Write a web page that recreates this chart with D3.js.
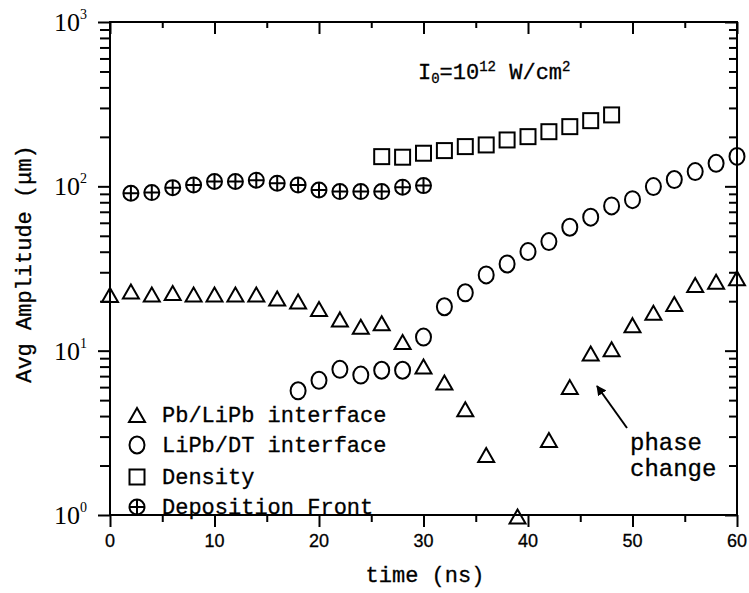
<!DOCTYPE html>
<html>
<head>
<meta charset="utf-8">
<script src="https://cdn.jsdelivr.net/npm/d3@7"></script>
<style>
  body { margin: 0; background: #fff; }
  svg { display: block; }
  .lbl { font-family: "Liberation Mono", monospace; font-size: 22px; fill: #000; stroke: #000; stroke-width: 0.3px; }
  .num { font-family: "Liberation Sans", Arial, sans-serif; font-size: 18px; fill: #000; }
  .mk { fill: none; stroke: #000; stroke-width: 2px; }
</style>
</head>
<body>
<div id="chart"></div>
<script>
// Pb/LiPb interface (triangles)
const pbTime = [0, 2, 4, 6, 8, 10, 12, 14, 16, 18, 20, 22, 24, 26, 28, 30, 32, 34, 36, 39, 42, 44, 46, 48, 50, 52, 54, 56, 58, 60];
const pbAmp = [21.8, 22.9, 22, 22.4, 22, 22, 22, 22, 20.8, 19.9, 17.9, 15.5, 14.0, 14.7, 11.3, 8.0, 6.4, 4.4, 2.32, 0.98, 2.86, 6.0, 9.6, 10.2, 14.3, 17.0, 19.2, 25.1, 26.3, 27.6];

// LiPb/DT interface (circles)
const dtTime = [18, 20, 22, 24, 26, 28, 30, 32, 34, 36, 38, 40, 42, 44, 46, 48, 50, 52, 54, 56, 58, 60];
const dtAmp = [5.7, 6.6, 7.7, 7.1, 7.6, 7.6, 12.1, 18.5, 22.5, 28.9, 33.7, 40.1, 46.1, 56.4, 64.9, 76.0, 83, 99.6, 110, 123, 138, 152];

// Density (squares)
const densTime = [26, 28, 30, 32, 34, 36, 38, 40, 42, 44, 46, 48];
const densAmp = [151.6, 150.4, 159, 165, 174.5, 178.6, 191.5, 200.6, 215, 230.8, 251, 272];

// Deposition Front (crossed circles)
const depTime = [2, 4, 6, 8, 10, 12, 14, 16, 18, 20, 22, 24, 26, 28, 30];
const depAmp = [90.8, 91.6, 98.2, 102, 107, 107, 109, 104.5, 102, 95, 92.9, 92.9, 92.9, 98.8, 101];

const xTicks = [0, 10, 20, 30, 40, 50, 60];
const yDecades = [0, 1, 2, 3];
const legendNames = ["Pb/LiPb interface", "LiPb/DT interface", "Density", "Deposition Front"];

const W = 749, H = 593;
const svg = d3.select("#chart").append("svg").attr("width", W).attr("height", H);

const x = d3.scaleLinear().domain([0, 60]).range([110, 737]);
const y = d3.scaleLog().domain([1, 1000]).range([515, 22]);

const minorX = d3.range(5, 60, 10);
const minorY = [];
yDecades.slice(0, 3).forEach(e => { for (let k = 2; k <= 9; k++) minorY.push(k * Math.pow(10, e)); });
const majorY = yDecades.map(e => Math.pow(10, e));

// bottom/left ticks point out, top/right ticks point in
function axisG(axis, tr) {
    const g = svg.append("g").attr("transform", tr).call(axis);
    g.select(".domain").remove();
    g.selectAll("line").attr("stroke", "#000").attr("stroke-width", 2);
    return g;
}
axisG(d3.axisBottom(x).tickValues(xTicks).tickSize(12).tickFormat(""), "translate(0,515)");
axisG(d3.axisBottom(x).tickValues(minorX).tickSize(7).tickFormat(""), "translate(0,515)");
axisG(d3.axisBottom(x).tickValues(xTicks).tickSize(12).tickFormat(""), "translate(0,22)");
axisG(d3.axisBottom(x).tickValues(minorX).tickSize(6).tickFormat(""), "translate(0,22)");
axisG(d3.axisLeft(y).tickValues(majorY).tickSize(12).tickFormat(""), "translate(110,0)");
axisG(d3.axisLeft(y).tickValues(minorY).tickSize(10).tickFormat(""), "translate(110,0)");
axisG(d3.axisLeft(y).tickValues(majorY).tickSize(12).tickFormat(""), "translate(737,0)");
axisG(d3.axisLeft(y).tickValues(minorY).tickSize(8).tickFormat(""), "translate(737,0)");

// frame
svg.append("rect")
    .attr("x", x(0)).attr("y", y(1000))
    .attr("width", x(60) - x(0)).attr("height", y(1) - y(1000))
    .attr("fill", "none").attr("stroke", "#000").attr("stroke-width", 2);

// x tick labels
svg.selectAll(".xl").data(xTicks).enter().append("text")
    .attr("class", "num")
    .attr("x", d => x(d)).attr("y", 547)
    .attr("text-anchor", "middle")
    .style("stroke", "#000").style("stroke-width", "0.3px")
    .text(d => d);

// y tick labels 10^n
const yl = svg.selectAll(".yl").data(yDecades).enter().append("g");
yl.append("text")
    .attr("x", 80).attr("y", d => y(Math.pow(10, d)) + 9)
    .attr("text-anchor", "end")
    .style("font-family", "Liberation Serif, serif").style("font-size", "26px")
    .text("10");
yl.append("text")
    .attr("x", 80).attr("y", d => y(Math.pow(10, d)) - 3)
    .style("font-family", "Liberation Serif, serif").style("font-size", "14px")
    .text(d => d);

// axis titles
svg.append("text").attr("class", "lbl")
    .attr("x", 425).attr("y", 582).attr("text-anchor", "middle")
    .text("time (ns)");
svg.append("text").attr("class", "lbl")
    .attr("transform", "translate(31,264) rotate(-90)")
    .attr("text-anchor", "middle")
    .text("Avg Amplitude (\u03bcm)");

// intensity label
const it = svg.append("text").attr("class", "lbl").attr("x", 418).attr("y", 79);
it.append("tspan").text("I");
it.append("tspan").attr("dy", 4).style("font-size", "14px").text("0");
it.append("tspan").attr("dy", -4).text("=10");
it.append("tspan").attr("dy", -8).style("font-size", "14px").text("12");
it.append("tspan").attr("dy", 8).text(" W/cm");
it.append("tspan").attr("dy", -8).style("font-size", "14px").text("2");

// markers
const tri = "M0,-7L8,7L-8,7Z";
function drawTri(sel) { sel.append("path").attr("class", "mk").attr("d", tri); }
function drawCirc(sel) { sel.append("ellipse").attr("class", "mk").attr("rx", 7.5).attr("ry", 8.5); }
function drawSq(sel) { sel.append("rect").attr("class", "mk").attr("x", -7.5).attr("y", -7.5).attr("width", 15).attr("height", 15); }
function drawCross(sel) {
    sel.append("circle").attr("class", "mk").attr("r", 7.5);
    sel.append("path").attr("class", "mk").attr("d", "M-7.5,0H7.5M0,-7.5V7.5");
}

function series(times, amps, drawer) {
    const g = svg.append("g").selectAll("g").data(times).enter().append("g")
        .attr("transform", (d, i) => `translate(${x(d)},${y(amps[i])})`);
    drawer(g);
}
series(pbTime, pbAmp, drawTri);
series(dtTime, dtAmp, drawCirc);
series(densTime, densAmp, drawSq);
series(depTime, depAmp, drawCross);

// legend
const drawers = [drawTri, drawCirc, drawSq, drawCross];
const legRowY = [415, 445, 477, 507];
legendNames.forEach((name, i) => {
    const g = svg.append("g").attr("transform", `translate(137,${legRowY[i]})`);
    drawers[i](g);
    svg.append("text").attr("class", "lbl")
        .attr("x", 162).attr("y", legRowY[i] + 7)
        .text(name);
});

// phase change annotation
svg.append("defs").append("marker")
    .attr("id", "ah").attr("viewBox", "0 0 10 10")
    .attr("refX", 9).attr("refY", 5)
    .attr("markerWidth", 5).attr("markerHeight", 5)
    .attr("orient", "auto")
    .append("path").attr("d", "M0,0L10,5L0,10Z").attr("fill", "#000");
svg.append("line")
    .attr("x1", 627).attr("y1", 428).attr("x2", 597).attr("y2", 386)
    .attr("stroke", "#000").attr("stroke-width", 2)
    .attr("marker-end", "url(#ah)");
svg.append("text").attr("class", "lbl").style("font-size", "24px").attr("x", 630).attr("y", 450).text("phase");
svg.append("text").attr("class", "lbl").style("font-size", "24px").attr("x", 630).attr("y", 476).text("change");
</script>
</body>
</html>
